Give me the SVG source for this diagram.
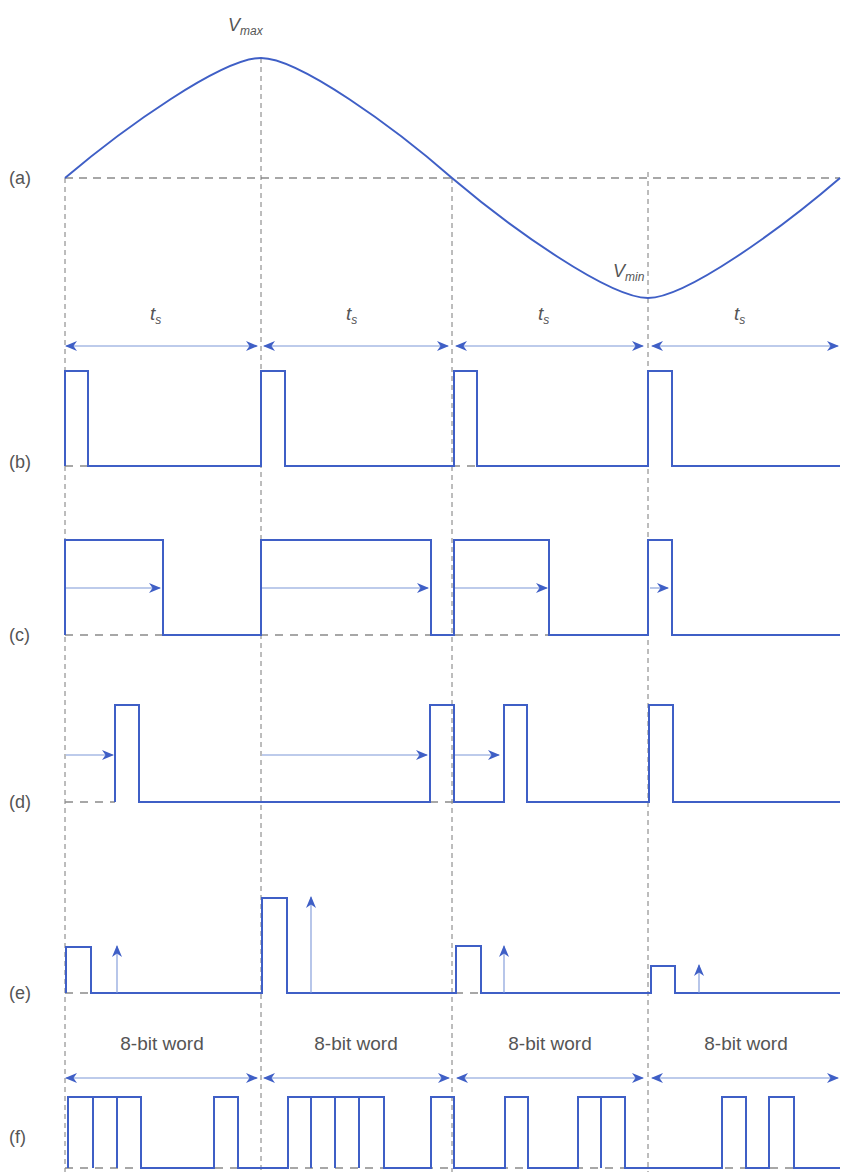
<svg xmlns="http://www.w3.org/2000/svg" width="845" height="1173" viewBox="0 0 845 1173">
<style>
.wave{fill:none;stroke:#3f5fc6;stroke-width:2;stroke-linejoin:miter}
.vdash{fill:none;stroke:#7a7a7a;stroke-width:1;stroke-dasharray:5,4}
.hdash{fill:none;stroke:#8a8a8a;stroke-width:1.5;stroke-dasharray:8,6}
.bdash{fill:none;stroke:#8a8a8a;stroke-width:1.5;stroke-dasharray:8,7}
.arr{fill:none;stroke:#7d97d8;stroke-width:1.1}
.dbl{marker-start:url(#ah);marker-end:url(#ah)}
.one{marker-end:url(#ah)}
.lbl{font-family:"Liberation Sans",Arial,sans-serif;font-size:18px;fill:#555}
.word{font-family:"Liberation Sans",Arial,sans-serif;font-size:19px;fill:#555;text-anchor:middle}
.it{font-family:"Liberation Sans",Arial,sans-serif;font-style:italic;fill:#555}
</style>
<defs>
<marker id="ah" viewBox="0 0 12 10" refX="11" refY="5" markerWidth="12" markerHeight="10" markerUnits="userSpaceOnUse" orient="auto-start-reverse">
<path d="M0,0 L12,5 L0,10 L3.5,5 z" fill="#3f5fc6"/>
</marker>
</defs>
<g id="guides">
<line class="hdash" x1="65" y1="178" x2="840" y2="178"/>
<line class="vdash" x1="65" y1="178" x2="65" y2="1172"/>
<line class="vdash" x1="261" y1="58" x2="261" y2="1172"/>
<line class="vdash" x1="452" y1="178" x2="452" y2="1172"/>
<line class="vdash" x1="648" y1="172" x2="648" y2="1172"/>
</g>
<g id="labels">
<text class="lbl" x="9" y="184">(a)</text>
<text class="lbl" x="9" y="468">(b)</text>
<text class="lbl" x="9" y="641">(c)</text>
<text class="lbl" x="9" y="808">(d)</text>
<text class="lbl" x="9" y="999">(e)</text>
<text class="lbl" x="9" y="1143">(f)</text>
<text class="it" x="228" y="31" font-size="18">V<tspan font-size="12" dy="4">max</tspan></text>
<text class="it" x="613" y="277" font-size="18">V<tspan font-size="12" dy="4">min</tspan></text>
<text class="it" x="150" y="320" font-size="19">t<tspan font-size="12" dy="4">s</tspan></text>
<text class="it" x="346" y="320" font-size="19">t<tspan font-size="12" dy="4">s</tspan></text>
<text class="it" x="538" y="320" font-size="19">t<tspan font-size="12" dy="4">s</tspan></text>
<text class="it" x="734" y="320" font-size="19">t<tspan font-size="12" dy="4">s</tspan></text>
<text class="word" x="162" y="1050">8-bit word</text>
<text class="word" x="356" y="1050">8-bit word</text>
<text class="word" x="550" y="1050">8-bit word</text>
<text class="word" x="746" y="1050">8-bit word</text>
</g>
<g id="wave-a">
<path class="wave" d="M65,178 C124,128 222,58 261,58 C299,58 395,128 452,178 C511,228 609,298 648,298 C686,298 782,228 840,178"/>
</g>
<g id="wave-b">
<line class="bdash" x1="65" y1="466" x2="261" y2="466"/>
<line class="bdash" x1="452" y1="466" x2="480" y2="466"/>
<path class="wave" d="M65,466 V371 H88 V466 H261 V371 H285 V466 H454 V371 H477 V466 H648 V371 H672 V466 H840"/>
</g>
<g id="wave-c">
<line class="bdash" x1="65" y1="635" x2="650" y2="635"/>
<path class="wave" d="M65,635 V540 H163 V635 H261 V540 H431 V635 H454 V540 H549 V635 H648 V540 H672 V635 H840"/>
</g>
<g id="wave-d">
<line class="bdash" x1="65" y1="802" x2="115" y2="802"/>
<line class="bdash" x1="430" y1="802" x2="456" y2="802"/>
<path class="wave" d="M115,802 V705 H139 V802 H430 V705 H454 V802 H504 V705 H527 V802 H649 V705 H673 V802 H840"/>
</g>
<g id="wave-e">
<line class="bdash" x1="65" y1="993" x2="92" y2="993"/>
<line class="bdash" x1="455" y1="993" x2="482" y2="993"/>
<path class="wave" d="M66,993 V947 H91 V993 H262 V898 H287 V993 H456 V946 H481 V993 H651 V966 H675 V993 H840"/>
</g>
<g id="wave-f">
<line class="bdash" x1="65" y1="1168" x2="840" y2="1168"/>
<path class="wave" d="M68,1168 V1097 H141 V1168 H214 V1097 H238 V1168 H288 V1097 H384 V1168 H431 V1097 H454 V1168 H505 V1097 H528 V1168 H578 V1097 H625 V1168 H722 V1097 H746 V1168 H769 V1097 H794 V1168 H840"/>
<path class="wave" d="M93,1097 V1168 M117,1097 V1168 M311,1097 V1168 M335,1097 V1168 M359,1097 V1168 M601,1097 V1168"/>
</g>
<g id="connectors">
<line class="arr dbl" x1="66" y1="346" x2="257" y2="346"/>
<line class="arr dbl" x1="264" y1="346" x2="448" y2="346"/>
<line class="arr dbl" x1="456" y1="346" x2="643" y2="346"/>
<line class="arr dbl" x1="652" y1="346" x2="838" y2="346"/>
<line class="arr one" x1="66" y1="588" x2="160" y2="588"/>
<line class="arr one" x1="262" y1="588" x2="428" y2="588"/>
<line class="arr one" x1="455" y1="588" x2="547" y2="588"/>
<line class="arr one" x1="650" y1="588" x2="668" y2="588"/>
<line class="arr one" x1="66" y1="755" x2="113" y2="755"/>
<line class="arr one" x1="262" y1="755" x2="427" y2="755"/>
<line class="arr one" x1="455" y1="755" x2="499" y2="755"/>
<line class="arr one" x1="117" y1="993" x2="117" y2="946"/>
<line class="arr one" x1="311" y1="993" x2="311" y2="897"/>
<line class="arr one" x1="504" y1="993" x2="504" y2="946"/>
<line class="arr one" x1="699" y1="993" x2="699" y2="965"/>
<line class="arr dbl" x1="66" y1="1078" x2="257" y2="1078"/>
<line class="arr dbl" x1="264" y1="1078" x2="449" y2="1078"/>
<line class="arr dbl" x1="457" y1="1078" x2="643" y2="1078"/>
<line class="arr dbl" x1="652" y1="1078" x2="838" y2="1078"/>
</g>
</svg>
